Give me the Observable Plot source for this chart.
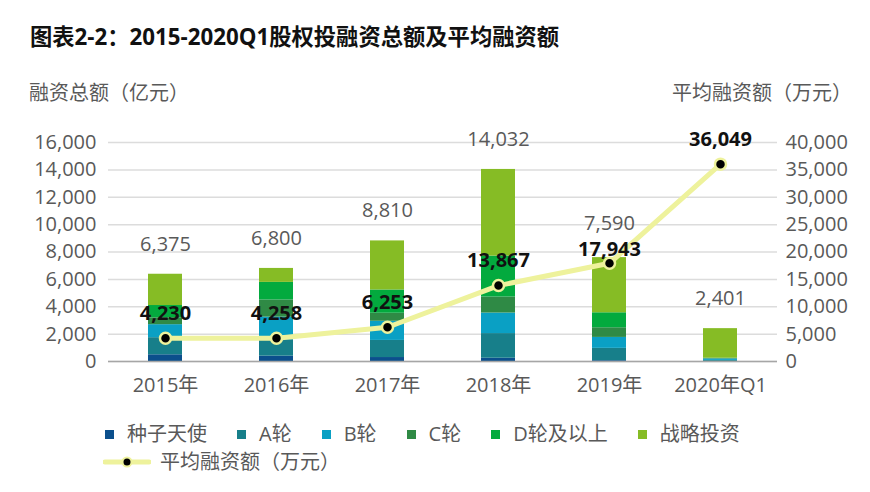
<!DOCTYPE html>
<html><head><meta charset="utf-8">
<script src="https://cdn.jsdelivr.net/npm/d3@7"></script>
<script src="https://cdn.jsdelivr.net/npm/@observablehq/plot@0.6"></script>
<style>
body{margin:0;background:#fff;font-family:"Open Sans","Noto Sans CJK SC",sans-serif;}
#wrap{position:relative;width:870px;height:492px;overflow:hidden;}
.abs{position:absolute;white-space:nowrap;}
#title{left:30px;top:26px;font-size:22.3px;line-height:22px;font-weight:bold;color:#111;}
#ylab{left:29px;top:83px;font-size:20px;line-height:20px;color:#595959;}
#y2lab{right:18px;top:83px;font-size:20px;line-height:20px;color:#595959;}
#chart{left:0;top:110px;}
.lrow{display:flex;align-items:center;font-size:20px;line-height:20px;color:#595959;}
.item{display:flex;align-items:center;margin-right:30px;}
.sw{width:9px;height:9px;margin-right:13px;}
</style></head><body>
<div id="wrap">
<div class="abs" id="title">图表2-2：2015-2020Q1股权投融资总额及平均融资额</div>
<div class="abs" id="ylab">融资总额（亿元）</div>
<div class="abs" id="y2lab">平均融资额（万元）</div>
<div class="abs" id="chart"></div>
<div class="abs lrow" id="leg1" style="left:105px;top:424px;"></div>
<div class="abs lrow" id="leg2" style="left:103px;top:452px;"></div>
</div>
<script>
const years = ["2015年","2016年","2017年","2018年","2019年","2020年Q1"];
const stages = ["种子天使","A轮","B轮","C轮","D轮及以上","战略投资"];
const seedAngel = [490,390,290,240,60,10];
const roundA = [1250,1200,1250,1800,900,70];
const roundB = [950,1650,1400,1500,800,110];
const roundC = [500,1255,585,1170,705,30];
const roundD = [900,1285,1700,2990,1095,20];
const strategic = [2285,1020,3585,6332,4030,2161];
const totals = [6375,6800,8810,14032,7590,2401];
const avgAmount = [4230,4258,6253,13867,17943,36049];
const leftTicks = [0,2000,4000,6000,8000,10000,12000,14000,16000];
const rightTicks = [0,5000,10000,15000,20000,25000,30000,35000,40000];
const lineName = "平均融资额（万元）";
const colors = ["#0b4f8c","#177f8a","#0aa0c4","#2f8a45","#03aa3e","#86bc25"];
const lineColor = "#eef29c";

const series = [seedAngel, roundA, roundB, roundC, roundD, strategic];
const stacked = [];
series.forEach((arr, si) => arr.forEach((v, yi) => stacked.push({year: years[yi], stage: stages[si], value: v})));
const totalRows = years.map((y, i) => ({year: y, total: totals[i]}));
const ratio = rightTicks[rightTicks.length-1] / leftTicks[leftTicks.length-1];
const avgRows = years.map((y, i) => ({year: y, avg: avgAmount[i], ys: avgAmount[i] / ratio}));
const crowded = "2019年";
const fmt = d3.format(",");

const plot = Plot.plot({
  width: 870, height: 291,
  marginLeft: 108, marginRight: 93, marginTop: 32, marginBottom: 40,
  style: {fontFamily: '"Open Sans","Noto Sans CJK SC",sans-serif', background: "transparent"},
  x: {domain: years, paddingInner: 0.695, paddingOuter: 0.3475},
  y: {domain: [0, 16000]},
  color: {domain: stages, range: colors},
  marks: [
    Plot.gridY(leftTicks, {stroke: "#dcdcdc", strokeOpacity: 1, strokeWidth: 1.5}),
    Plot.barY(stacked, {x: "year", y: "value", fill: "stage", order: null}),
    Plot.ruleY([0], {stroke: "#a6a6a6", strokeWidth: 1.5}),
    Plot.axisY({ticks: leftTicks, tickSize: 0, tickPadding: 12, tickFormat: fmt, fontSize: 20, fill: "#595959", label: null}),
    Plot.axisY({anchor: "right", ticks: rightTicks.map(v => v / ratio), tickSize: 0, tickPadding: 8,
      tickFormat: d => fmt(Math.round(d * ratio)), fontSize: 20, fill: "#595959", label: null}),
    Plot.axisX({tickSize: 0, tickPadding: 16, fontSize: 20, fill: "#595959", label: null}),
    Plot.text(totalRows.filter(d => d.year !== crowded), {x: "year", y: "total", text: d => fmt(d.total), dy: -30, fontSize: 20, fill: "#595959"}),
    Plot.text(totalRows.filter(d => d.year === crowded), {x: "year", y: "total", text: d => fmt(d.total), dy: -34, fontSize: 20, fill: "#595959"}),
    Plot.line(avgRows, {x: "year", y: "ys", stroke: lineColor, strokeWidth: 5}),
    Plot.dot(avgRows, {x: "year", y: "ys", r: 5.5, fill: "#000", stroke: lineColor, strokeWidth: 2.5}),
    Plot.text(avgRows.filter(d => d.year !== crowded), {x: "year", y: "ys", text: d => fmt(d.avg), dy: -25, fontSize: 20, fontWeight: "bold", fill: "#111"}),
    Plot.text(avgRows.filter(d => d.year === crowded), {x: "year", y: "ys", text: d => fmt(d.avg), dy: -14, fontSize: 20, fontWeight: "bold", fill: "#111"})
  ]
});
document.getElementById("chart").appendChild(plot);

const leg1 = document.getElementById("leg1");
stages.forEach((s, i) => {
  const it = document.createElement("div"); it.className = "item";
  const sw = document.createElement("div"); sw.className = "sw"; sw.style.background = colors[i];
  const t = document.createElement("span"); t.textContent = s;
  it.appendChild(sw); it.appendChild(t); leg1.appendChild(it);
});
const leg2 = document.getElementById("leg2");
leg2.innerHTML = `<svg width="48" height="14" style="margin-right:9px"><line x1="2" y1="7" x2="46" y2="7" stroke="${lineColor}" stroke-width="5" stroke-linecap="round"/><circle cx="24" cy="7" r="4.5" fill="#000" stroke="${lineColor}" stroke-width="2"/></svg><span>${lineName}</span>`;
</script>
</body></html>
